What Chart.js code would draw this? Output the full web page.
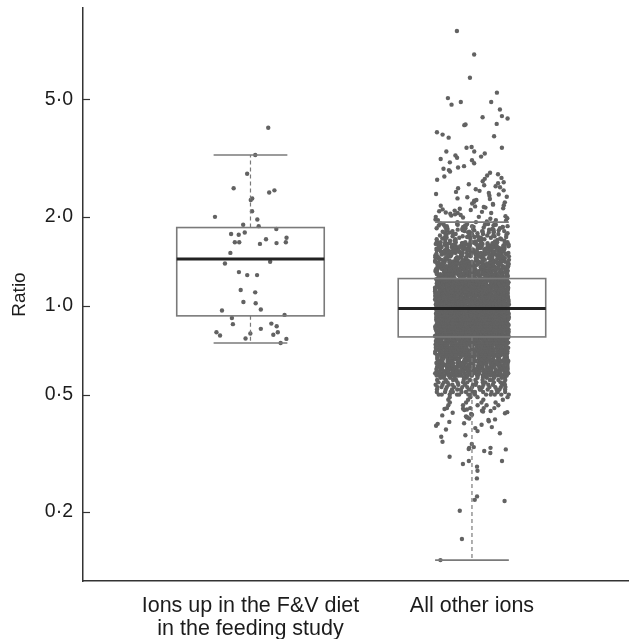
<!DOCTYPE html>
<html>
<head>
<meta charset="utf-8">
<script src="https://cdn.jsdelivr.net/npm/chart.js@4.4.0/dist/chart.umd.min.js"></script>
<style>
  html, body { margin: 0; padding: 0; background: #fff; }
</style>
</head>
<body>
<canvas id="ratioChart" width="629" height="639"></canvas>
<script>
// ── Data ──
const categories = [['Ions up in the F&V diet', 'in the feeding study'], 'All other ions'];
const tickValues = [0.2, 0.5, 1, 2, 5];
const tickLabels = ['0·2', '0·5', '1·0', '2·0', '5·0'];

// box statistics, one entry per category
const q1 = [0.924, 0.784];
const medians = [1.44, 0.978];
const q3 = [1.84, 1.236];
const whiskerLow = [0.748, 0.1375];
const whiskerHigh = [3.24, 1.92];

// ions up in the F&V diet (each dot)
const upIons = [
    4.01, 3.24, 2.80, 2.50, 2.46, 2.42, 2.28, 2.31, 2.09, 2.00,
    1.96, 1.86, 1.88, 1.82, 1.74, 1.77, 1.75, 1.70, 1.68, 1.64,
    1.63, 1.64, 1.62, 1.64, 1.51, 1.41, 1.39, 1.27, 1.27, 1.30,
    1.11, 1.13, 1.03, 1.02, 0.963, 0.971, 0.931, 0.909, 0.866, 0.870,
    0.852, 0.835, 0.813, 0.805, 0.797, 0.813, 0.793, 0.774, 0.772, 0.748
];

// all other ions: sparse tails, dot by dot
const otherTail = [
    0.1375, 0.162, 0.202, 0.218, 0.220, 0.226, 0.260, 0.276, 0.285, 0.291,
    0.298, 0.298, 0.308, 0.317, 0.322, 0.326, 0.327, 0.330, 0.330, 0.332,
    0.340, 0.346, 0.360, 0.364, 0.370, 0.376, 0.381, 0.385, 0.388, 0.392,
    0.395, 0.398, 0.400, 0.404, 0.406, 0.410, 0.412, 0.415, 0.418, 0.420,
    0.422, 0.425, 0.427, 0.430, 0.432, 0.434, 0.436, 0.438, 0.440, 0.441,
    0.443, 0.445, 0.447, 0.448,
    1.90, 1.91, 1.92, 1.92, 1.93, 1.94, 1.95, 1.95, 1.96, 1.97,
    1.98, 1.99, 2.00, 2.00, 2.01, 2.02, 2.03, 2.04, 2.05, 2.06,
    2.06, 2.07, 2.08, 2.09, 2.10, 2.11, 2.12, 2.13, 2.14, 2.15,
    2.16, 2.17, 2.18, 2.19, 2.20, 2.21, 2.22, 2.24, 2.25, 2.27,
    2.28, 2.30, 2.31, 2.33, 2.34, 2.36, 2.38, 2.39, 2.41, 2.43,
    2.45, 2.46, 2.48, 2.50, 2.52, 2.54, 2.56, 2.58, 2.60, 2.62,
    2.64, 2.67, 2.69, 2.71, 2.74, 2.76, 2.79, 2.82, 2.85, 2.88,
    2.91, 2.94, 2.97, 3.04, 3.06, 3.11, 3.14, 3.17, 3.20, 3.23,
    3.28, 3.33, 3.33, 3.43, 3.43, 3.45, 3.71, 3.75, 3.80, 3.87,
    4.09, 4.11, 4.13, 4.31, 4.35, 4.39, 4.62, 4.80, 4.90, 4.90,
    5.05, 5.27, 5.92, 7.10, 8.52
];

// all other ions: dense core as a histogram (ratio level -> number of ions)
const otherLevels = [
    0.45, 0.46, 0.47, 0.48, 0.49, 0.50, 0.51, 0.52, 0.53, 0.54,
    0.55, 0.56, 0.57, 0.58, 0.59, 0.60, 0.61, 0.62, 0.63, 0.64,
    0.65, 0.66, 0.67, 0.68, 0.69, 0.70, 0.71, 0.72, 0.73, 0.74,
    0.75, 0.76, 0.77, 0.78, 0.79, 0.80, 0.81, 0.82, 0.83, 0.84,
    0.85, 0.86, 0.87, 0.88, 0.89, 0.90, 0.91, 0.92, 0.93, 0.94,
    0.95, 0.96, 0.97, 0.98, 0.99, 1.00, 1.01, 1.02, 1.03, 1.04,
    1.05, 1.06, 1.07, 1.08, 1.09, 1.10, 1.11, 1.12, 1.13, 1.14,
    1.15, 1.16, 1.17, 1.18, 1.19, 1.20, 1.21, 1.22, 1.23, 1.24,
    1.25, 1.26, 1.27, 1.28, 1.29, 1.30, 1.31, 1.32, 1.33, 1.34,
    1.35, 1.36, 1.37, 1.38, 1.39, 1.40, 1.41, 1.42, 1.43, 1.44,
    1.45, 1.46, 1.47, 1.48, 1.49, 1.50, 1.51, 1.52, 1.53, 1.54,
    1.55, 1.56, 1.57, 1.58, 1.59, 1.60, 1.61, 1.62, 1.63, 1.64,
    1.65, 1.66, 1.67, 1.68, 1.69, 1.70, 1.71, 1.72, 1.73, 1.74,
    1.75, 1.76, 1.77, 1.78, 1.79, 1.80, 1.81, 1.82, 1.83, 1.84,
    1.85, 1.86, 1.87, 1.88, 1.89
];
const otherCounts = [
    4, 5, 4, 4, 4, 13, 13, 13, 13, 13,
    12, 12, 12, 26, 24, 24, 24, 24, 22, 22,
    22, 22, 21, 27, 27, 27, 26, 26, 26, 26,
    26, 24, 24, 24, 34, 34, 34, 32, 32, 32,
    32, 32, 30, 30, 30, 30, 29, 29, 29, 29,
    29, 27, 27, 27, 27, 27, 27, 26, 26, 26,
    26, 26, 26, 26, 24, 24, 24, 24, 24, 24,
    24, 22, 22, 22, 22, 22, 22, 22, 16, 14,
    14, 14, 14, 14, 14, 14, 14, 14, 14, 14,
    14, 14, 13, 13, 13, 13, 13, 10, 10, 10,
    10, 10, 10, 10, 10, 10, 10, 10, 10, 10,
    10, 10, 10, 8, 10, 8, 10, 8, 8, 8,
    4, 4, 4, 4, 4, 4, 4, 4, 4, 4,
    4, 4, 4, 4, 4, 4, 4, 4, 3, 4,
    4, 4, 3, 4, 3
];

// ── Layout helpers ──
const FONT = "'Liberation Sans', Arial, Helvetica, sans-serif";
const TEXT = '#1c1c1c';
const DOT = '#626262';
const BOX_HALF = 0.333;     // half box width, in x units
const JITTER_HALF = 0.167;  // half width of the dot strip

// fixed sideways spread for the dots (a hash of the dot index, same every run)
function spread(i, seed) {
    const s = Math.sin((i + 1) * 12.9898 + seed * 78.233) * 43758.5453;
    return s - Math.floor(s);
}
// dots sharing a value get their own slot across the strip, shifted a little inside it
function jitter(values, center, seed) {
    const seen = {}, total = {};
    values.forEach(v => { total[v] = (total[v] || 0) + 1; });
    return values.map((v, i) => {
        const k = seen[v] = (seen[v] || 0) + 1;
        const n = total[v];
        const u = n > 1 ? (k - 1 + spread(i, seed)) / n : spread(i, seed);
        return { x: center + (u * 2 - 1) * JITTER_HALF, y: v };
    });
}

const otherValues = otherTail.slice();
otherLevels.forEach((lvl, i) => {
    for (let k = 0; k < otherCounts[i]; k++) otherValues.push(lvl);
});
otherValues.sort((a, b) => a - b);

// ── Box & whisker overlay, drawn through the chart scales ──
const boxPlot = {
    id: 'boxPlot',
    afterDatasetsDraw(chart) {
        const { ctx, scales: { x, y }, chartArea } = chart;
        const line = (x1, y1, x2, y2) => {
            ctx.beginPath(); ctx.moveTo(x1, y1); ctx.lineTo(x2, y2); ctx.stroke();
        };
        ctx.save();
        for (let i = 0; i < medians.length; i++) {
            const c = i + 1;
            const cx = x.getPixelForValue(c);
            const left = x.getPixelForValue(c - BOX_HALF);
            const right = x.getPixelForValue(c + BOX_HALF);
            const capL = x.getPixelForValue(c - BOX_HALF / 2);
            const capR = x.getPixelForValue(c + BOX_HALF / 2);
            const yQ1 = y.getPixelForValue(q1[i]);
            const yQ3 = y.getPixelForValue(q3[i]);
            const yMed = y.getPixelForValue(medians[i]);
            const yLo = y.getPixelForValue(whiskerLow[i]);
            const yHi = y.getPixelForValue(whiskerHigh[i]);

            ctx.strokeStyle = '#7a7a7a';
            ctx.lineWidth = 1.2;
            ctx.setLineDash([4, 3]);
            line(cx, yQ3, cx, yHi);
            line(cx, yQ1, cx, yLo);
            ctx.setLineDash([]);

            ctx.lineWidth = 1.6;
            line(capL, yHi, capR, yHi);
            line(capL, yLo, capR, yLo);
            ctx.strokeRect(left, yQ3, right - left, yQ1 - yQ3);

            ctx.strokeStyle = '#222';
            ctx.lineWidth = 3;
            line(left, yMed, right, yMed);
        }
        // y tick marks point into the plot
        ctx.strokeStyle = '#333';
        ctx.lineWidth = 1.2;
        tickValues.forEach(v => {
            const ty = Math.round(y.getPixelForValue(v)) + 0.5;
            line(chartArea.left, ty, chartArea.left + 7, ty);
        });
        ctx.restore();
    }
};

new Chart(document.getElementById('ratioChart'), {
    type: 'scatter',
    data: {
        datasets: [
            {
                label: categories[0].join(' '),
                data: jitter(upIons, 1, 1),
                pointRadius: 2.2,
                pointBackgroundColor: DOT,
                pointBorderWidth: 0
            },
            {
                label: categories[1],
                data: jitter(otherValues, 2, 2),
                pointRadius: 2.2,
                pointBackgroundColor: DOT,
                pointBorderWidth: 0
            }
        ]
    },
    options: {
        responsive: false,
        animation: false,
        devicePixelRatio: 1,
        layout: { autoPadding: false, padding: { top: 8, right: 0, bottom: 0, left: 0 } },
        plugins: {
            legend: { display: false },
            tooltip: { enabled: false }
        },
        scales: {
            x: {
                type: 'linear',
                min: 0.2438,
                max: 2.709,
                grid: { display: false, drawTicks: false },
                border: { display: true, color: '#333', width: 1.5 },
                afterBuildTicks: s => { s.ticks = [{ value: 1 }, { value: 2 }]; },
                afterFit: s => { s.height = 58; s.paddingLeft = 0; s.paddingRight = 0; },
                ticks: {
                    autoSkip: false,
                    maxRotation: 0,
                    padding: 14,
                    color: TEXT,
                    font: { family: FONT, size: 21.5, lineHeight: 1.05 },
                    callback: (v, i) => categories[i]
                }
            },
            y: {
                type: 'logarithmic',
                position: 'left',
                min: 0.1168,
                max: 10.2,
                grid: { display: false, drawTicks: false },
                border: { display: true, color: '#333', width: 1.5 },
                afterBuildTicks: s => { s.ticks = tickValues.map(v => ({ value: v })); },
                afterFit: s => { s.width = 83; s.paddingTop = 0; s.paddingBottom = 0; },
                ticks: {
                    autoSkip: false,
                    padding: 10,
                    color: TEXT,
                    font: { family: FONT, size: 19.5 },
                    callback: (v, i) => tickLabels[i]
                },
                title: {
                    display: true,
                    text: 'Ratio',
                    color: TEXT,
                    font: { family: FONT, size: 19 },
                    padding: { top: 8, bottom: 0 }
                }
            }
        }
    },
    plugins: [boxPlot]
});
</script>
</body>
</html>
